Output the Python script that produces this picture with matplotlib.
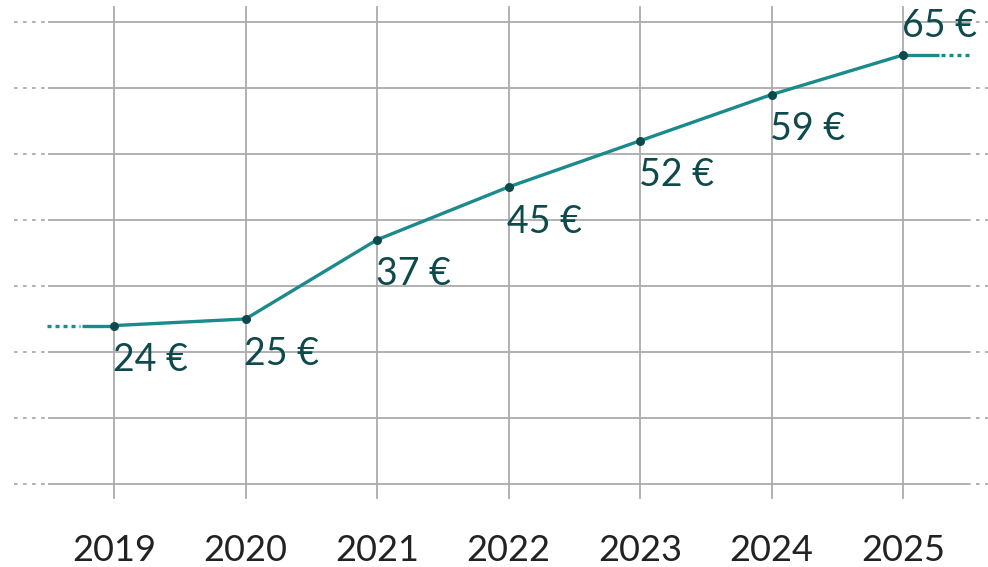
import matplotlib
matplotlib.use("Agg")
import matplotlib.pyplot as plt

years = [2019, 2020, 2021, 2022, 2023, 2024, 2025]
prices = [24, 25, 37, 45, 52, 59, 65]
labels = ["24 €", "25 €", "37 €", "45 €", "52 €", "59 €", "65 €"]
grid_values = [0, 10, 20, 30, 40, 50, 60, 70]

LINE = "#1b8a8c"
DARK = "#0e4a4b"
GRID = "#ababab"

fig = plt.figure(figsize=(9.88, 5.67), dpi=100)
ax = fig.add_axes([0, 0, 1, 1])
ax.set_xlim(2018.133, 2025.646)
ax.set_ylim(-12.58, 73.33)
ax.axis("off")

# horizontal grid
for g in grid_values:
    ax.plot([2018.50, 2025.49], [g, g], color=GRID, lw=1.3, zorder=1, solid_capstyle="butt")
    ax.plot([2018.24, 2018.50], [g, g], color=GRID, lw=1.3, zorder=1, ls=(0, (2, 3)))
    ax.plot([2025.49, 2025.646], [g, g], color=GRID, lw=1.3, zorder=1, ls=(0, (2, 3)))

# vertical grid
for yr in years:
    ax.plot([yr, yr], [-2.1, 72.3], color=GRID, lw=1.3, zorder=1)
    ax.text(yr, -11.6, str(yr), ha="center", va="baseline", fontsize=26,
            family="Lato", color="#222222", fontweight="normal")

# main line
ax.plot(years, prices, color=LINE, lw=2.4, zorder=3, solid_capstyle="butt")
# extensions
ax.plot([2018.76, 2019], [prices[0]] * 2, color=LINE, lw=2.4, zorder=3, solid_capstyle="butt")
ax.plot([2018.49, 2018.74], [prices[0]] * 2, color=LINE, lw=2.4, zorder=3, ls=(0, (1.2, 1.2)))
ax.plot([2025, 2025.27], [prices[-1]] * 2, color=LINE, lw=2.4, zorder=3, solid_capstyle="butt")
ax.plot([2025.29, 2025.50], [prices[-1]] * 2, color=LINE, lw=2.4, zorder=3, ls=(0, (1.2, 1.2)))

ax.scatter(years, prices, s=30, color=DARK, zorder=4)

for i, (x, y, t) in enumerate(zip(years, prices, labels)):
    if i == len(years) - 1:
        ax.annotate(t, (x, y), xytext=(-1, 8), textcoords="offset points",
                    ha="left", va="bottom", fontsize=27, family="Lato", color=DARK)
    else:
        ax.annotate(t, (x, y), xytext=(-1, -12), textcoords="offset points",
                    ha="left", va="top", fontsize=27, family="Lato", color=DARK)

fig.savefig("out.png", dpi=100)
